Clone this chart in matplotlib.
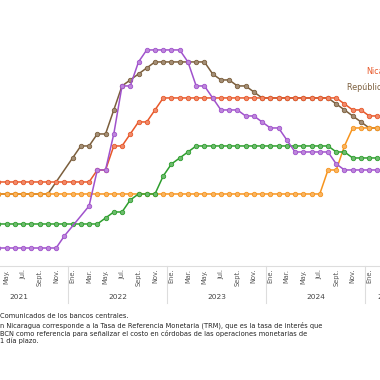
import numpy as np
import pandas as pd
import matplotlib
matplotlib.use("Agg")
import matplotlib.pyplot as plt
import matplotlib.transforms as mtransforms
from matplotlib.colors import to_rgb

# months counted from Ene 2021 (0) -> visible part starts at Abr 2021 (3)
meses = list(range(3, 50))
N = None

costa_rica = [0.75]*8 + [1.25, N, N, 2.5, 4.0, 4.0, 5.5, 7.5, 7.5, 8.5] + [9.0]*5 + \
    [8.5, 7.5, 7.5, 7.0, 6.5, 6.5, 6.5, 6.25, 6.25, 6.0, 5.75, 5.75, 5.25] + [4.75]*5 + [4.25] + [4.0]*5
rep_dominicana = [3.0]*7 + [N, N, 4.5, 5.0, 5.0, 5.5, 5.5, 6.5, 7.5, 7.75, 8.0, 8.25] + [8.5]*7 + \
    [8.0, 7.75, 7.75, 7.5, 7.5, 7.25] + [7.0]*9 + [6.75, 6.5, 6.25, 6.0, 5.75, 5.75]
nicaragua = [3.5]*12 + [4.0, 4.0, 5.0, 5.0, 5.5, 6.0, 6.0, 6.5] + [7.0]*22 + [6.75, 6.5, 6.5, 6.25, 6.25]
honduras = [3.0]*40 + [4.0, 4.0, 5.0] + [5.75]*4
guatemala = [1.75]*13 + [2.0, 2.25, 2.25, 2.75, 3.0, 3.0, 3.0, 3.75, 4.25, 4.5, 4.75] + [5.0]*17 + \
    [4.75, 4.75] + [4.5]*4

meses_abr = ["Ene.", "Feb.", "Mar.", "Abr.", "May.", "Jun.", "Jul.", "Ago.", "Sept.", "Oct.", "Nov.", "Dic."]
anios = ["2021", "2022", "2023", "2024", "2025"]
anio_centro = [5.5, 17.5, 29.5, 41.5, 50.2]

series = [  # drawing order: bottom to top
    ("República Dominicana", rep_dominicana, "#7b5e3c"),
    ("Nicaragua", nicaragua, "#e8582a"),
    ("Honduras", honduras, "#f7941d"),
    ("Guatemala", guatemala, "#2e9e2e"),
    ("Costa Rica", costa_rica, "#a052cc"),
]

def tint(c, f=0.3):
    r, g, b = to_rgb(c)
    return (r + (1-r)*f, g + (1-g)*f, b + (1-b)*f)

fig = plt.figure(figsize=(3.8, 3.8), dpi=100)
ax = fig.add_axes([0, 0.3, 1, 0.7])

for nombre, vals, col in series:
    s = pd.Series(vals, index=meses, dtype=float).dropna()
    ax.plot(s.index, s.values, color=col, lw=1.1, marker="o", ms=3.2,
            mfc=tint(col), mec=col, mew=0.6, solid_joinstyle="round")

ax.set_xlim(3.19, 49.31)
ax.set_ylim(0, 11.08)

# month ticks every 2 months
ticks = list(range(4, 50, 2))
ax.set_xticks(ticks)
ax.set_xticklabels([meses_abr[t % 12] for t in ticks], rotation=90, fontsize=4.8,
                   color="#555555", va="top")
ax.tick_params(axis="x", length=0, pad=2)
ax.set_yticks([])
for sp in ["top", "right", "left"]:
    ax.spines[sp].set_visible(False)
ax.spines["bottom"].set_color("#dddddd")
ax.spines["bottom"].set_linewidth(0.8)

# year separators + year labels under the axis
tr = mtransforms.blended_transform_factory(ax.transData, ax.transAxes)
for b in [11.5, 23.5, 35.5, 47.5]:
    ax.plot([b, b], [0, -0.14], color="#dddddd", lw=0.8, transform=tr, clip_on=False)
for a, c in zip(anios, anio_centro):
    ax.text(c, -0.1165, a, transform=tr, ha="center", va="center", fontsize=5.3, color="#444444")

# end labels (cut by the frame, as in the original crop)
ax.text(47.69, 8.1, "Nicaragua", color="#e8582a", fontsize=5.8, va="center", ha="left")
ax.text(45.34, 7.42, "República Dominicana", color="#7b5e3c", fontsize=5.8, va="center", ha="left")

# notes
fig.text(0.0, 1 - 315.7/380, "Comunicados de los bancos centrales.", fontsize=4.8, va="center", color="#222222")
notas = ["n Nicaragua corresponde a la Tasa de Referencia Monetaria (TRM), que es la tasa de interés que",
         "BCN como referencia para señalizar el costo en córdobas de las operaciones monetarias de",
         "1 día plazo."]
for i, t in enumerate(notas):
    fig.text(0.0, 1 - (325.7 + 7.7*i)/380, t, fontsize=4.8, va="center", color="#222222")

fig.savefig("out.png", dpi=100)
